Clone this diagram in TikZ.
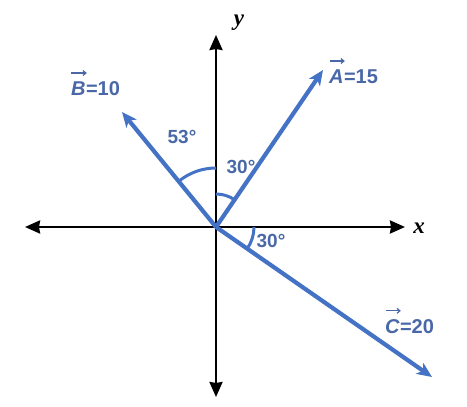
\documentclass[tikz,border=0pt]{standalone}
\usepackage{fontspec}
\usetikzlibrary{arrows.meta}
\newfontfamily\labfont{Liberation Sans}
\newfontfamily\axfont{Liberation Serif}
\definecolor{vecblue}{HTML}{4472C4}
\definecolor{labblue}{HTML}{4A68A8}
\begin{document}
\begin{tikzpicture}[x=1pt,y=1pt,
  axis/.style={line width=2.6pt,black,{Stealth[length=15pt,width=13pt,inset=1pt]}-{Stealth[length=15pt,width=13pt,inset=1pt]}},
  vec/.style={line width=4.2pt,vecblue,-{Stealth[length=15pt,width=13pt,inset=4pt]}},
  angarc/.style={line width=3pt,vecblue},
  overarrow/.style={line width=1.2pt,labblue,-{Straight Barb[length=3pt,width=5pt]}},
  lab/.style={text=labblue,font=\labfont\bfseries\fontsize{20}{20}\selectfont,inner sep=0pt,anchor=base west},
  alab/.style={text=labblue,font=\labfont\bfseries\fontsize{19}{19}\selectfont,inner sep=0pt},
  axlab/.style={font=\axfont\bfseries\itshape\fontsize{23}{23}\selectfont,inner sep=0pt}]
\useasboundingbox (0,0) rectangle (467,-407);
\coordinate (O) at (216,-227);
\coordinate (xl) at (25,-227);
\coordinate (xr) at (405,-227);
\coordinate (yt) at (216,-35);
\coordinate (yb) at (216,-397);
\coordinate (At) at (323,-70);
\coordinate (Bt) at (122,-112);
\coordinate (Ct) at (432,-377);
\draw[axis] (xl) -- (xr);
\draw[axis] (yb) -- (yt);
\draw[vec] (O) -- (At);
\draw[vec] (O) -- (Bt);
\draw[vec] (O) -- (Ct);
\draw[angarc] ([shift={(129.3:59)}]O) arc[start angle=129.3,end angle=90,radius=59];
\draw[angarc] ([shift={(90:33)}]O) arc[start angle=90,end angle=55.7,radius=33];
\draw[angarc] ([shift={(0:38)}]O) arc[start angle=0,end angle=-34.8,radius=38];
\node[axlab] (xlab) at (419,-228) {x};
\node[axlab] (ylab) at (239,-23) {y};
% vector labels
\node[lab] (bl) at (71,-95) {\itshape B};
\node[lab] (bv) at (bl.base east) {=10};
\draw[overarrow] ([shift={(0pt,8pt)}]bl.north west) -- ([shift={(1pt,8pt)}]bl.north east);
\node[lab] (al) at (329,-83) {\itshape A};
\node[lab] (av) at (al.base east) {=15};
\draw[overarrow] ([shift={(1pt,8pt)}]al.north west) -- ([shift={(1pt,8pt)}]al.north east);
\node[lab] (cl) at (385,-333) {\itshape C};
\node[lab] (cv) at (cl.base east) {=20};
\draw[overarrow] ([shift={(1pt,8pt)}]cl.north west) -- ([shift={(1pt,8pt)}]cl.north east);
% angle labels
\node[alab] (a53) at (182,-137) {53°};
\node[alab] (a30u) at (241,-167) {30°};
\node[alab] (a30l) at (271,-241) {30°};
\end{tikzpicture}
\end{document}
